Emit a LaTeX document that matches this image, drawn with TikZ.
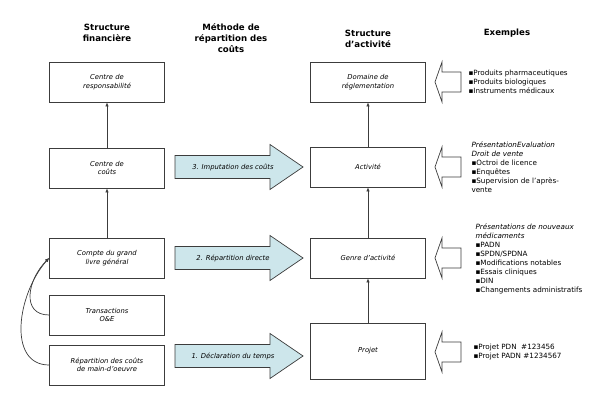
\documentclass[tikz,border=0pt]{standalone}
\usepackage{fontspec}
\setmainfont{DejaVu Sans}
\usetikzlibrary{arrows.meta}
\definecolor{edge}{RGB}{60,60,60}
\definecolor{flow}{RGB}{205,230,235}

\begin{document}
\begin{tikzpicture}[x=1pt, y=-1pt,
  box/.style={draw=edge, line width=0.8pt, fill=white, minimum width=115pt,
    minimum height=40pt, align=center, font=\fontsize{6.8}{8.5}\selectfont\itshape},
  head/.style={align=center, font=\fontsize{8.6}{11}\selectfont\bfseries},
  expl/.style={anchor=west, align=left, font=\fontsize{7.2}{9}\selectfont},
  conn/.style={draw=edge, line width=0.7pt, -{Latex[length=4pt,width=3.5pt]}}]
\useasboundingbox (0,0) rectangle (600,403);
\node[head] (hfin) at (107,33) {Structure\\financière};
\node[head] (hmeth) at (231,38.5) {Méthode de\\répartition des\\coûts};
\node[head] (hact) at (368,38.5) {Structure\\d’activité};
\node[head] (hex) at (507,33) {Exemples};
% structure financiere
\node[box] (cresp) at (107,82) {Centre de\\responsabilité};
\node[box] (ccout) at (107,168) {Centre de\\coûts};
\node[box] (compte) at (107,258) {Compte du grand\\livre général};
\node[box] (trans) at (107,315) {Transactions\\O\&E};
\node[box] (repart) at (107,365) {Répartition des coûts\\de main-d’oeuvre};
% structure d'activite
\node[box] (dom) at (368,82) {Domaine de\\réglementation};
\node[box] (activ) at (368,167) {Activité};
\node[box] (genre) at (368,258) {Genre d’activité};
\node[box, minimum height=56pt] (projet) at (368,351) {Projet};
\draw[conn] (ccout) -- (cresp);
\draw[conn] (compte) -- (ccout);
\draw[conn] (activ) -- (dom);
\draw[conn] (genre) -- (activ);
\draw[conn] (projet) -- (genre);
\draw[conn] (trans.west) .. controls +(-28,0) and +(-22,22) .. (compte.west);
\draw[conn] (repart.west) .. controls +(-42,0) and +(-32,36) .. (compte.west);
% methode
\foreach \c/\txt in {167/{3. Imputation des coûts}, 258/{2. Répartition directe},
    356/{1. Déclaration du temps}} {
  \draw[edge, line width=0.7pt, fill=flow] (175,\c-11.5) -- (270,\c-11.5)
    -- (270,\c-22.5) -- (303,\c) -- (270,\c+22.5) -- (270,\c+11.5)
    -- (175,\c+11.5) -- cycle;
  \node[font=\fontsize{6.8}{8.5}\selectfont\itshape] at (233,\c) {\txt};
}
% exemples
\foreach \c in {82, 167, 258, 352}
  \draw[edge, line width=0.7pt, fill=white] (435,\c) -- (442,\c-20)
    -- (442,\c-10) -- (461,\c-10) -- (461,\c+10) -- (442,\c+10)
    -- (442,\c+20) -- cycle;
\node[expl] (ex1) at (465,82) {▪Produits pharmaceutiques\\▪Produits biologiques\\▪Instruments médicaux};
\node[expl] (ex2) at (468,167) {\textit{PrésentationEvaluation}\\\textit{Droit de vente}\\▪Octroi de licence\\▪Enquêtes\\▪Supervision de l’après-\\vente};
\node[expl] (ex3) at (472,259) {\textit{Présentations de nouveaux}\\\textit{médicaments}\\▪PADN\\▪SPDN/SPDNA\\▪Modifications notables\\▪Essais cliniques\\▪DIN\\▪Changements administratifs};
\node[expl] (ex4) at (470,352) {▪Projet PDN\ \ \#123456\\▪Projet PADN \#1234567};
\end{tikzpicture}
\end{document}
